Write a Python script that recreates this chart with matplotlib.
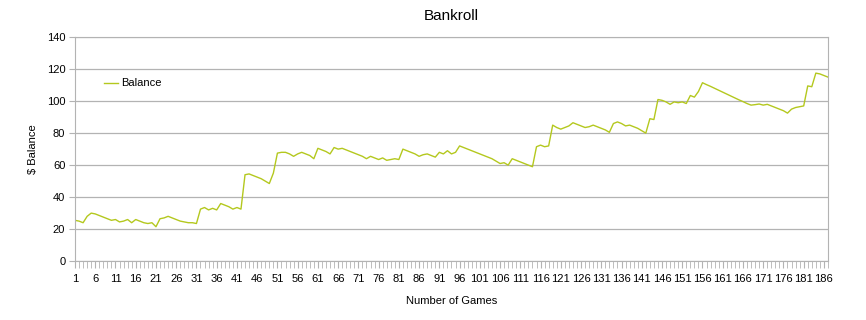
import numpy as np
import matplotlib
matplotlib.use("Agg")
import matplotlib.pyplot as plt

plt.rcParams["font.family"] = ["Liberation Sans", "DejaVu Sans"]

# Balance after each game
balance = [
    25.5, 25, 24, 28, 30, 29.5, 28.5, 27.5, 26.5, 25.5,
    26, 24.5, 25, 26, 24, 26, 25, 24, 23.5, 24,
    21.5, 26.5, 27, 28, 27, 26, 25, 24.5, 24, 24,
    23.5, 32.5, 33.5, 32, 33, 32, 36, 35, 34, 32.5,
    33.5, 32.5, 54, 54.5, 53.5, 52.5, 51.5, 50, 48.5, 55,
    67.5, 68, 68, 67, 65.5, 67, 68, 67, 66, 64,
    70.5, 69.5, 68.5, 67, 71, 70, 70.5, 69.5, 68.5, 67.5,
    66.5, 65.5, 64, 65.5, 64.5, 63.5, 64.5, 63, 63.5, 64,
    63.5, 70, 69, 68, 67, 65.5, 66.5, 67, 66, 65,
    68, 67, 69, 67, 68, 72, 71, 70, 69, 68,
    67, 66, 65, 64, 62.5, 61, 61.5, 60, 64, 63,
    62, 61, 60, 59, 71.5, 72.5, 71.5, 72, 85, 83.5,
    82.5, 83.5, 84.5, 86.5, 85.5, 84.5, 83.5, 84, 85, 84,
    83, 82, 80.5, 86, 87, 86, 84.5, 85, 84, 83,
    81.5, 80, 89, 88.5, 101, 100.5, 99.5, 98, 99.5, 99,
    99.5, 98.5, 103.5, 102.5, 106, 111.5, 110.3, 109.2, 108, 106.8,
    105.6, 104.4, 103.2, 102, 100.8, 99.7, 98.5, 97.5, 97.8, 98.2,
    97.5, 98, 97, 96, 95, 94, 92.5, 95, 96, 96.5,
    97, 109.5, 109, 117.5, 117, 116, 115,
]
games = np.arange(1, len(balance) + 1)
label_games = list(range(1, 187, 5))
y_ticks = [0, 20, 40, 60, 80, 100, 120, 140]

fig = plt.figure(figsize=(8.66, 3.2), dpi=100)
ax = fig.add_axes([0.0866, 0.184, 0.8695, 0.70])

grid_col = "#b3b3b3"
ax.plot(games, balance, color="#b4c81e", linewidth=1.0, label="Balance")

ax.set_xlim(1, len(balance))
ax.set_ylim(0, 140)
ax.set_yticks(y_ticks)
ax.set_xticks(label_games)
ax.set_xticks(games, minor=True)
ax.yaxis.grid(True, color=grid_col, linewidth=0.9)
ax.set_axisbelow(True)

for s in ax.spines.values():
    s.set_color(grid_col)
ax.tick_params(axis="both", which="both", colors=grid_col, labelcolor="black",
               labelsize=8)
ax.tick_params(axis="x", which="major", length=5, pad=4)
ax.tick_params(axis="x", which="minor", length=5)
ax.tick_params(axis="y", length=4, pad=3)

ax.set_title("Bankroll", fontsize=11, pad=12)
ax.set_xlabel("Number of Games", fontsize=8, labelpad=9)
ax.set_ylabel("$ Balance", fontsize=8, labelpad=6)

ax.legend(loc="upper left", bbox_to_anchor=(0.025, 0.86), frameon=False,
          fontsize=8, handlelength=1.3, handletextpad=0.3)

fig.savefig("out.png", dpi=100)
